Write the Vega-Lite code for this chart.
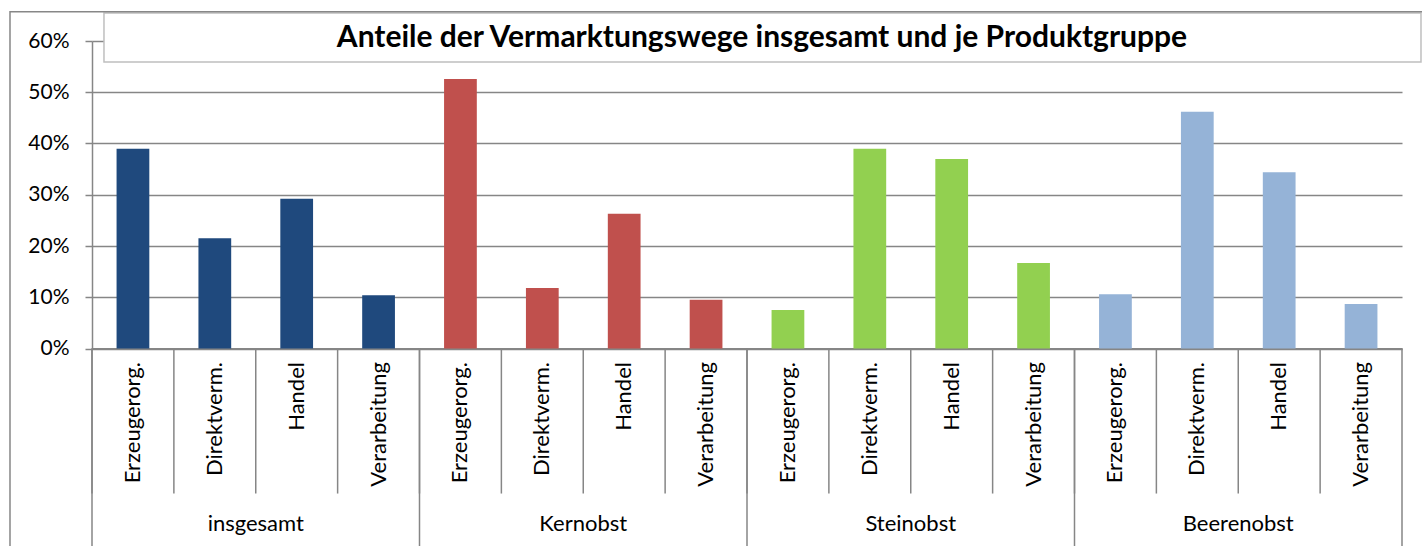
{
  "$schema": "https://vega.github.io/schema/vega-lite/v6.json",
  "width": 1310,
  "height": 307.5,
  "autosize": {"type": "none"},
  "padding": {"left": 92, "top": 41, "right": 20, "bottom": 197.5},
  "background": "white",
  "title": {
    "text": "Anteile der Vermarktungswege insgesamt und je Produktgruppe",
    "font": "Lato", "fontSize": 30, "fontWeight": "bold", "color": "black",
    "anchor": "middle", "frame": "group", "dx": 15, "baseline": "middle", "offset": -57
  },
  "config": {
    "view": {"stroke": null},
    "font": "Lato",
    "axis": {"labelFont": "Lato", "labelColor": "black"}
  },
  "data": {
    "values": [
      {"key": "insgesamt|Erzeugerorg.", "group": "insgesamt", "weg": "Erzeugerorg.", "value": 0.39},
      {"key": "insgesamt|Direktverm.", "group": "insgesamt", "weg": "Direktverm.", "value": 0.215},
      {"key": "insgesamt|Handel", "group": "insgesamt", "weg": "Handel", "value": 0.292},
      {"key": "insgesamt|Verarbeitung", "group": "insgesamt", "weg": "Verarbeitung", "value": 0.104},
      {"key": "Kernobst|Erzeugerorg.", "group": "Kernobst", "weg": "Erzeugerorg.", "value": 0.526},
      {"key": "Kernobst|Direktverm.", "group": "Kernobst", "weg": "Direktverm.", "value": 0.118},
      {"key": "Kernobst|Handel", "group": "Kernobst", "weg": "Handel", "value": 0.263},
      {"key": "Kernobst|Verarbeitung", "group": "Kernobst", "weg": "Verarbeitung", "value": 0.095},
      {"key": "Steinobst|Erzeugerorg.", "group": "Steinobst", "weg": "Erzeugerorg.", "value": 0.075},
      {"key": "Steinobst|Direktverm.", "group": "Steinobst", "weg": "Direktverm.", "value": 0.39},
      {"key": "Steinobst|Handel", "group": "Steinobst", "weg": "Handel", "value": 0.37},
      {"key": "Steinobst|Verarbeitung", "group": "Steinobst", "weg": "Verarbeitung", "value": 0.167},
      {"key": "Beerenobst|Erzeugerorg.", "group": "Beerenobst", "weg": "Erzeugerorg.", "value": 0.106},
      {"key": "Beerenobst|Direktverm.", "group": "Beerenobst", "weg": "Direktverm.", "value": 0.462},
      {"key": "Beerenobst|Handel", "group": "Beerenobst", "weg": "Handel", "value": 0.344},
      {"key": "Beerenobst|Verarbeitung", "group": "Beerenobst", "weg": "Verarbeitung", "value": 0.087}
    ]
  },
  "layer": [
    {
      "layer": [
        {
          "mark": {"type": "bar", "width": {"band": 0.4}},
          "encoding": {
            "x": {
              "field": "key", "type": "nominal", "sort": null,
              "scale": {"paddingInner": 0, "paddingOuter": 0},
              "axis": {
                "title": null, "orient": "bottom",
                "labelExpr": "split(datum.label, '|')[1]",
                "labelAngle": -90, "labelFontSize": 22, "labelPadding": 13,
                "ticks": false, "grid": false,
                "domainColor": "#868686", "domainWidth": 2
              }
            },
            "y": {
              "field": "value", "type": "quantitative",
              "scale": {"domain": [0, 0.6], "nice": false},
              "axis": {
                "title": null, "format": ".0%",
                "values": [0, 0.1, 0.2, 0.3, 0.4, 0.5, 0.6],
                "labelFontSize": 21, "labelPadding": 16,
                "tickSize": 7, "tickColor": "#868686", "tickWidth": 1.5,
                "domainColor": "#868686", "domainWidth": 1.5,
                "grid": true, "gridColor": "#868686", "gridWidth": 1.5
              }
            },
            "color": {
              "field": "group", "type": "nominal",
              "scale": {
                "domain": ["insgesamt", "Kernobst", "Steinobst", "Beerenobst"],
                "range": ["#1F497D", "#C0504D", "#92D050", "#95B3D7"]
              },
              "legend": null
            }
          }
        },
        {
          "mark": {"type": "rule", "color": "#868686", "strokeWidth": 1.5},
          "encoding": {
            "x": {"field": "key", "type": "nominal", "sort": null, "bandPosition": 0},
            "y": {"datum": 0},
            "y2": {"datum": -0.283}
          }
        },
        {
          "transform": [{"filter": "datum.weg === 'Erzeugerorg.'"}],
          "mark": {"type": "rule", "color": "#868686", "strokeWidth": 1.5},
          "encoding": {
            "x": {"field": "key", "type": "nominal", "sort": null, "bandPosition": 0},
            "y": {"datum": 0},
            "y2": {"datum": -0.5}
          }
        },
        {
          "transform": [{"filter": "datum.key === 'Beerenobst|Verarbeitung'"}],
          "mark": {"type": "rule", "color": "#868686", "strokeWidth": 1.5},
          "encoding": {
            "x": {"field": "key", "type": "nominal", "sort": null, "bandPosition": 1},
            "y": {"datum": 0},
            "y2": {"datum": -0.5}
          }
        }
      ]
    },
    {
      "layer": [
        {
          "mark": {"type": "rule", "opacity": 0},
          "encoding": {
            "x": {
              "field": "group", "type": "nominal",
              "scale": {"domain": ["insgesamt", "Kernobst", "Steinobst", "Beerenobst"], "paddingInner": 0, "paddingOuter": 0},
              "axis": {
                "title": null, "orient": "bottom", "labelAngle": 0,
                "labelFontSize": 22, "labelPadding": 165,
                "ticks": false, "domain": false, "grid": false
              }
            }
          }
        },
        {
          "data": {"values": [{}]},
          "mark": {"type": "rect", "fill": "white", "stroke": "#BFBFBF", "strokeWidth": 1.5},
          "encoding": {
            "x": {"datum": "insgesamt", "type": "nominal", "bandPosition": 0.0366},
            "x2": {"datum": "Beerenobst", "bandPosition": 1.058},
            "y": {"datum": 0.6546},
            "y2": {"datum": 0.559}
          }
        },
        {
          "data": {"values": [{}]},
          "mark": {"type": "rect", "fill": null, "fillOpacity": 0, "stroke": "#878787", "strokeWidth": 1.5},
          "encoding": {
            "x": {"datum": "insgesamt", "type": "nominal", "bandPosition": -0.2504},
            "x2": {"datum": "Beerenobst", "bandPosition": 1.3},
            "y": {"datum": 0.657},
            "y2": {"datum": -0.6}
          }
        }
      ]
    }
  ],
  "resolve": {"scale": {"x": "independent"}, "axis": {"x": "independent"}}
}
